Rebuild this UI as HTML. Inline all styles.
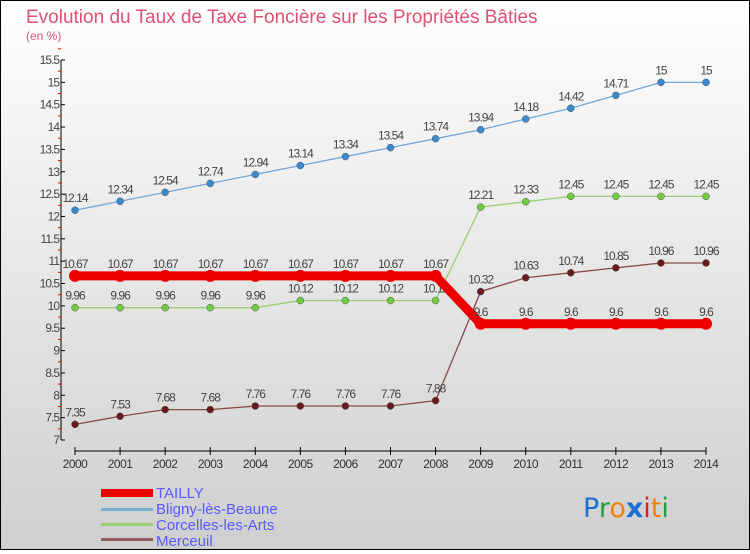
<!DOCTYPE html>
<html><head><meta charset="utf-8"><style>
html,body{margin:0;padding:0}
body{width:750px;height:550px;overflow:hidden;font-family:"Liberation Sans",sans-serif}
#wrap{position:relative;width:748px;height:548px;border:1px solid #000;background:linear-gradient(#fff,#f0f0f0 30%,#cfcfcf)}
</style></head><body>
<div id="wrap">
<svg id="chart" width="748" height="548">
<text x="25" y="22" font-size="19" fill="#e05070">Evolution du Taux de Taxe Foncière sur les Propriétés Bâties</text>
<text x="25" y="39" font-size="12" fill="#e05070">(en %)</text>
<g id="axes"></g><g id="series"></g>
<g>
<rect x="100" y="488" width="52" height="8" fill="#ee0000"/>
<text x="155" y="497" font-size="15" fill="#5a5aff">TAILLY</text>
<rect x="100" y="507" width="52" height="3" fill="#7ab0d8"/>
<text x="155" y="513" font-size="15" fill="#5a5aff">Bligny-lès-Beaune</text>
<rect x="100" y="522" width="52" height="3" fill="#98d070"/>
<text x="155" y="529" font-size="15" fill="#5a5aff">Corcelles-les-Arts</text>
<rect x="100" y="537" width="52" height="3" fill="#906060"/>
<text x="155" y="545" font-size="15" fill="#5a5aff">Merceuil</text>
</g>
<text x="582" y="516" font-size="27" font-family="'DejaVu Sans',sans-serif"><tspan fill="#1a70d0">P</tspan><tspan fill="#20a040">r</tspan><tspan fill="#f08010">o</tspan><tspan fill="#1a70d0" font-weight="bold">x</tspan><tspan fill="#e02020">i</tspan><tspan fill="#f08010">t</tspan><tspan fill="#20a040">i</tspan></text>
</svg></div>
<script>
const years=[2000,2001,2002,2003,2004,2005,2006,2007,2008,2009,2010,2011,2012,2013,2014];
const tailly=[10.67,10.67,10.67,10.67,10.67,10.67,10.67,10.67,10.67,9.6,9.6,9.6,9.6,9.6,9.6];
const bligny=[12.14,12.34,12.54,12.74,12.94,13.14,13.34,13.54,13.74,13.94,14.18,14.42,14.71,15,15];
const corcelles=[9.96,9.96,9.96,9.96,9.96,10.12,10.12,10.12,10.12,12.21,12.33,12.45,12.45,12.45,12.45];
const merceuil=[7.35,7.53,7.68,7.68,7.76,7.76,7.76,7.76,7.88,10.32,10.63,10.74,10.85,10.96,10.96];
const yTicks=[7,7.5,8,8.5,9,9.5,10,10.5,11,11.5,12,12.5,13,13.5,14,14.5,15,15.5];
const NS="http://www.w3.org/2000/svg";
const X=i=>74+i*(631/14);
const Y=v=>439-(v-7)*(380/8.5);
function mk(t,a,p){const e=document.createElementNS(NS,t);for(const k in a)e.setAttribute(k,a[k]);p.appendChild(e);return e;}
const ax=document.getElementById('axes');
const yl=mk('line',{x1:60,y1:Y(15.5),x2:60,y2:Y(7),stroke:'#000'},ax);


yTicks.forEach(v=>{
 mk('line',{x1:60,x2:64,y1:Y(v),y2:Y(v),stroke:'#000'},ax);
 mk('line',{x1:57,x2:60,y1:Y(v+0.25),y2:Y(v+0.25),stroke:'#e00'},ax);
 const t=mk('text',{x:58,y:Y(v)+4,'text-anchor':'end','font-size':12,fill:'#444','letter-spacing':'-1'},ax);
 t.textContent=String(v);
 
 
});
const xl=mk('line',{x1:X(0),y1:450,x2:X(14),y2:450,stroke:'#000'},ax);


years.forEach((y,i)=>{
 mk('line',{x1:X(i),x2:X(i),y1:446,y2:454,stroke:'#000'},ax);
 const t=mk('text',{x:X(i),y:467,'text-anchor':'middle','font-size':12,fill:'#333','letter-spacing':'-0.5'},ax);
 t.textContent=y;
 
 
});
const sg=document.getElementById('series');
function draw(name,data,color,w,r,dot){
 const g=mk('g',{},sg);
 
 
 mk('polyline',{points:data.map((v,i)=>X(i)+','+Y(v)).join(' '),fill:'none',stroke:color,'stroke-width':w},g);
 data.forEach((v,i)=>{
  const c=mk('circle',{cx:X(i),cy:Y(v),r:r,fill:dot,stroke:w>3?'none':'#555','stroke-width':0.5},g);
  
  
  const t=mk('text',{x:X(i),y:Y(v)-8,'text-anchor':'middle','font-size':12,fill:'#444','letter-spacing':'-1'},g);
  t.textContent=String(v);
  
  
 });
}
draw('bligny',bligny,'#6fa8dc',1.3,3.5,'#3a8ad0');
draw('corcelles',corcelles,'#98d070',1.3,3.5,'#70cc40');
draw('merceuil',merceuil,'#8a4a4a',1.3,3.5,'#6a1a1a');
draw('tailly',tailly,'#ee0000',9,6,'#ee0000');
</script></body></html>
